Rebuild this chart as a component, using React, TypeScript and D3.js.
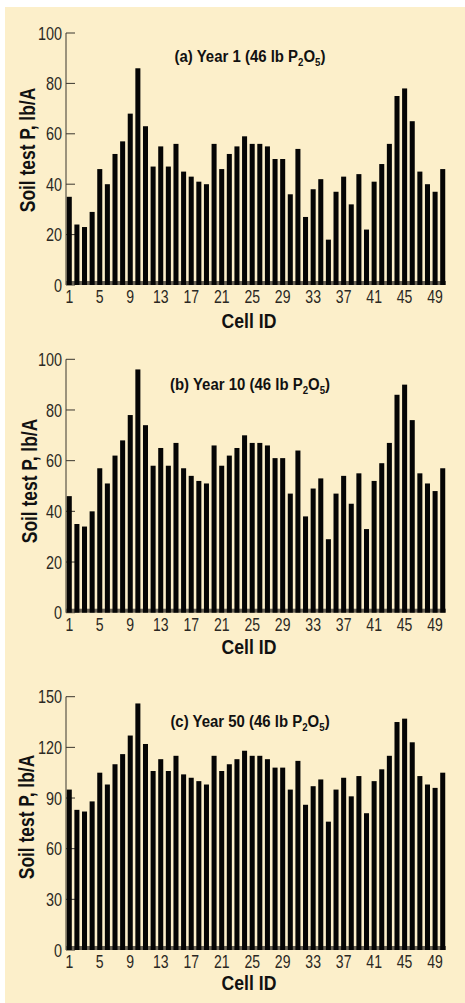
import React from "react";
import * as d3 from "d3";

// cell ids 1..50
const cellIds = [
  1, 2, 3, 4, 5, 6, 7, 8, 9, 10, 11, 12, 13, 14, 15, 16, 17, 18, 19, 20, 21, 22, 23, 24, 25,
  26, 27, 28, 29, 30, 31, 32, 33, 34, 35, 36, 37, 38, 39, 40, 41, 42, 43, 44, 45, 46, 47, 48, 49, 50,
];

const year1Values = [
  35, 24, 23, 29, 46, 40, 52, 57, 68, 86, 63, 47, 55, 47, 56, 45, 43, 41, 40, 56, 46, 52, 55, 59, 56,
  56, 55, 50, 50, 36, 54, 27, 38, 42, 18, 37, 43, 32, 44, 22, 41, 48, 56, 75, 78, 65, 45, 40, 37, 46,
];

const year10Values = [
  46, 35, 34, 40, 57, 51, 62, 68, 78, 96, 74, 58, 65, 58, 67, 57, 54, 52, 51, 66, 58, 62, 65, 70, 67,
  67, 66, 61, 61, 47, 64, 38, 49, 53, 29, 47, 54, 43, 55, 33, 52, 59, 67, 86, 90, 76, 55, 51, 48, 57,
];

const year50Values = [
  95, 83, 82, 88, 105, 98, 110, 116, 127, 146, 122, 106, 113, 106, 115, 104, 102, 100, 98, 115, 106, 110, 113, 118, 115,
  115, 113, 108, 108, 95, 112, 86, 97, 101, 76, 95, 102, 91, 103, 81, 100, 107, 115, 135, 137, 123, 103, 98, 96, 105,
];

const xTickLabels = [1, 5, 9, 13, 17, 21, 25, 29, 33, 37, 41, 45, 49];
const yTicksSmall = [0, 20, 40, 60, 80, 100];
const yTicksLarge = [0, 30, 60, 90, 120, 150];
const panelLetters = ["a", "b", "c"];
const panelYears = [1, 10, 50];

const W = 465;
const H = 1003;
const BG = "#fcefca";
const FONT = "'Liberation Sans', Arial, sans-serif";

// layout of each panel (pixel positions)
const panels = [
  { values: year1Values, ticks: yTicksSmall, top: 33, base: 285, titleY: 61.5, tickY: 302.5, labelY: 327.5, yLabelX: 35, yLabelCy: 150 },
  { values: year10Values, ticks: yTicksSmall, top: 359.3, base: 612.7, titleY: 389.5, tickY: 630.5, labelY: 653.5, yLabelX: 37, yLabelCy: 481 },
  { values: year50Values, ticks: yTicksLarge, top: 696.7, base: 950, titleY: 726.5, tickY: 967.5, labelY: 990, yLabelX: 34, yLabelCy: 817 },
];

const x = d3
  .scaleBand<number>()
  .domain(cellIds)
  .range([66, 446])
  .paddingInner(0.34)
  .paddingOuter(0.1);

// condensed text: Liberation Sans squeezed horizontally
function NText({
  x, y, sx, size, bold, anchor = "start", rot = false, dy, fill = "#111", children,
}: any) {
  const tr = `translate(${x},${y})${rot ? " rotate(-90)" : ""} scale(${sx},1)`;
  return (
    <text
      transform={tr}
      textAnchor={anchor}
      fontSize={size}
      fontWeight={bold ? "bold" : "normal"}
      dy={dy}
      fill={fill}
    >
      {children}
    </text>
  );
}

function Panel({ p, i }: { p: (typeof panels)[number]; i: number }) {
  const yMax = p.ticks[p.ticks.length - 1];
  const y = d3.scaleLinear().domain([0, yMax]).range([p.base, p.top]);
  const axisX = 66;

  return (
    <g>
      {/* y axis */}
      <line x1={axisX} x2={axisX} y1={y(0)} y2={y(yMax)} stroke="#3a362e" strokeWidth={1} />
      {p.ticks.map((t) => (
        <g key={t}>
          <line x1={axisX} x2={axisX + 9} y1={y(t)} y2={y(t)} stroke="#3a362e" strokeWidth={1} />
          <NText x={62} y={y(t)} dy="0.36em" anchor="end" size={18.5} sx={0.78} fill="#2b2823">
            {t}
          </NText>
        </g>
      ))}

      {/* bottom band */}
      <rect x={axisX} y={p.base - 4} width={x.range()[1] - axisX} height={4} fill="#6a6355" />

      {/* bars */}
      {cellIds.map((id, k) => (
        <rect
          key={id}
          x={x(id)}
          y={y(p.values[k])}
          width={x.bandwidth()}
          height={y(0) - y(p.values[k])}
          fill="#050505"
        />
      ))}

      {/* x tick labels */}
      {xTickLabels.map((id) => (
        <NText
          key={id}
          x={(x(id) ?? 0) + x.bandwidth() / 2}
          y={p.tickY}
          anchor="middle"
          size={18}
          sx={0.78}
          fill="#2b2823"
        >
          {id}
        </NText>
      ))}

      {/* title */}
      <NText x={250} y={p.titleY} anchor="middle" size={17} sx={0.88} bold>
        ({panelLetters[i]}) Year {panelYears[i]} (46 lb P
        <tspan dy={4} fontSize={11}>2</tspan>
        <tspan dy={-4}>O</tspan>
        <tspan dy={4} fontSize={11}>5</tspan>
        <tspan dy={-4}>)</tspan>
      </NText>

      {/* axis titles */}
      <NText x={249} y={p.labelY} anchor="middle" size={21} sx={0.84} bold>
        Cell ID
      </NText>
      <NText x={p.yLabelX} y={p.yLabelCy} rot anchor="middle" size={21.5} sx={0.81} bold>
        Soil test P, lb/A
      </NText>
    </g>
  );
}

export default function App() {
  return (
    <div style={{ position: "absolute", left: 0, top: 0 }}>
      <svg width={W} height={H} style={{ display: "block", fontFamily: FONT }}>
        <rect x={0} y={0} width={W} height={H} fill="#fff" />
        <rect x={5} y={7} width={W - 5} height={H - 7} fill={BG} />
        {panels.map((p, i) => (
          <Panel key={i} p={p} i={i} />
        ))}
      </svg>
    </div>
  );
}
